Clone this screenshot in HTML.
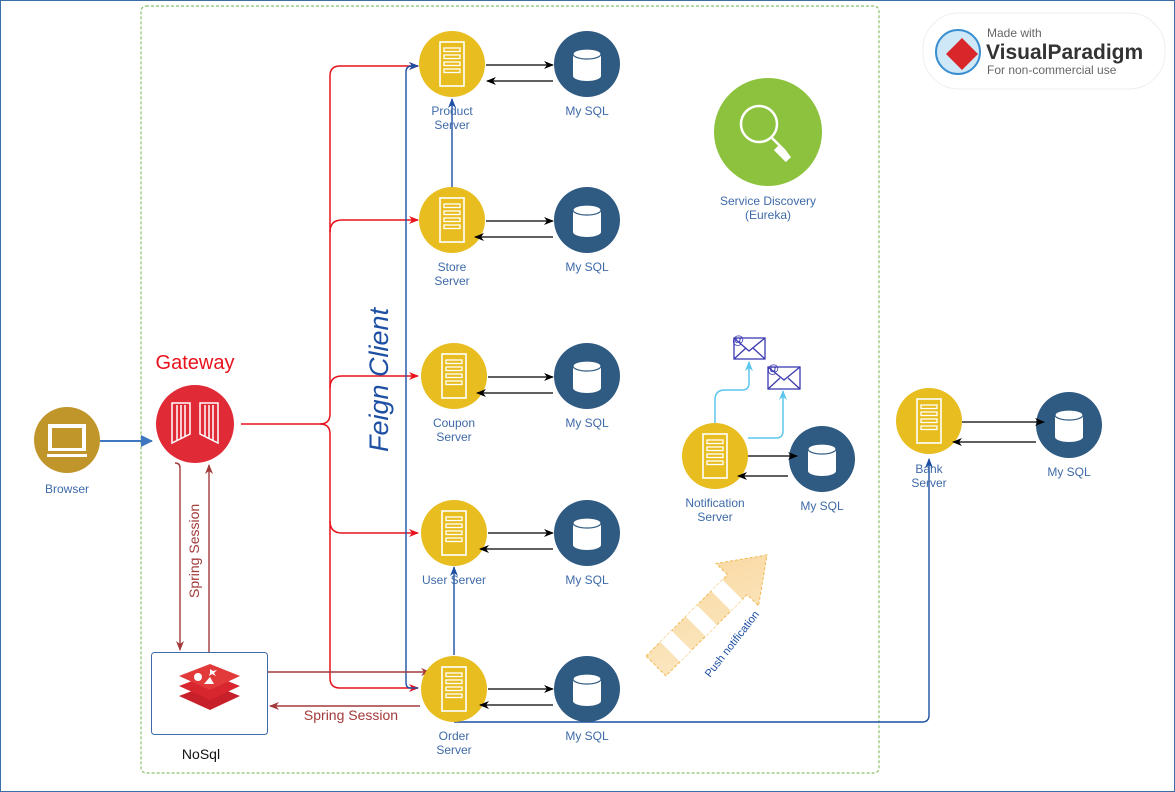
<!DOCTYPE html>
<html><head><meta charset="utf-8"><style>
html,body{margin:0;padding:0;background:#fff;}
svg{display:block;font-family:"Liberation Sans",sans-serif;}
</style></head><body>
<svg width="1175" height="792" viewBox="0 0 1175 792" xmlns="http://www.w3.org/2000/svg">
<defs>
<marker id="ab" markerWidth="10" markerHeight="10" refX="9" refY="5" orient="auto" markerUnits="userSpaceOnUse"><path d="M0,1 L10,5 L0,9 L3,5 z" fill="#000"/></marker>
<marker id="ar" markerWidth="10" markerHeight="10" refX="9" refY="5" orient="auto" markerUnits="userSpaceOnUse"><path d="M0,1 L10,5 L0,9 L3,5 z" fill="#e8121c"/></marker>
<marker id="abl" markerWidth="10" markerHeight="10" refX="9" refY="5" orient="auto" markerUnits="userSpaceOnUse"><path d="M0,1 L10,5 L0,9 L3,5 z" fill="#1d4fa3"/></marker>
<marker id="adr" markerWidth="10" markerHeight="10" refX="9" refY="5" orient="auto" markerUnits="userSpaceOnUse"><path d="M0,1 L10,5 L0,9 L3,5 z" fill="#a33a3a"/></marker>
<marker id="alb" markerWidth="10" markerHeight="10" refX="9" refY="5" orient="auto" markerUnits="userSpaceOnUse"><path d="M0,1 L10,5 L0,9 L3,5 z" fill="#5cc5ee"/></marker>
<marker id="aBr" markerWidth="12" markerHeight="12" refX="11" refY="6" orient="auto" markerUnits="userSpaceOnUse"><path d="M0,0 L12,6 L0,12 z" fill="#3f78c0"/></marker>
<g id="srv"><circle r="33" fill="#e8bd20"/><rect x="-12" y="-22" width="24" height="44" fill="none" stroke="#fff" stroke-width="1.6"/><rect x="-8" y="-16" width="16" height="3.5" fill="none" stroke="#fff" stroke-width="1.3"/><rect x="-8" y="-9" width="16" height="3.5" fill="none" stroke="#fff" stroke-width="1.3"/><rect x="-8" y="-2" width="16" height="3.5" fill="none" stroke="#fff" stroke-width="1.3"/><rect x="-8" y="5" width="16" height="3.5" fill="none" stroke="#fff" stroke-width="1.3"/></g>
<g id="db"><circle r="33" fill="#2f5a82"/><path d="M-14,-10 L-14,12 A14,5 0 0 0 14,12 L14,-10" fill="#fff"/><ellipse cx="0" cy="-10" rx="14" ry="5" fill="#fff" stroke="#2f5a82" stroke-width="1.2"/></g>
<linearGradient id="pg" x1="0" y1="1" x2="1" y2="0"><stop offset="0" stop-color="#fbe2b4"/><stop offset="1" stop-color="#f7cf8a"/></linearGradient>
</defs>
<rect x="0.5" y="0.5" width="1174" height="791" fill="none" stroke="#3a6ea5" stroke-width="1"/>
<rect x="141" y="6" width="738" height="767" rx="5" fill="none" stroke="#8cc06a" stroke-width="1.2" stroke-dasharray="3,2"/>

<!-- logo -->
<rect x="923" y="13" width="242" height="76" rx="36" fill="#fff" stroke="#eee"/>
<circle cx="958" cy="52" r="22" fill="#cfe8f7" stroke="#3a8fd0" stroke-width="2"/>
<path d="M946,54 L962,38 L978,54 L962,70 z" fill="#d8262b"/>
<text x="987" y="37" font-size="12" fill="#666">Made with</text>
<text x="986" y="59" font-size="21" font-weight="bold" fill="#333">VisualParadigm</text>
<text x="987" y="74" font-size="12" fill="#666">For non-commercial use</text>

<!-- red trunk -->
<g fill="none" stroke="#e8121c" stroke-width="1.5">
<path d="M241,424 L320,424 Q330,424 330,414 L330,76 Q330,66 340,66 L418,66" marker-end="url(#ar)"/>
<path d="M330,232 Q330,220 342,220 L418,220" marker-end="url(#ar)"/>
<path d="M330,388 Q330,376 342,376 L418,376" marker-end="url(#ar)"/>
<path d="M320,424 Q330,424 330,434 L330,521 Q330,533 342,533 L418,533" marker-end="url(#ar)"/>
<path d="M330,521 L330,678 Q330,688 340,688 L418,688" marker-end="url(#ar)"/>
</g>
<!-- blue feign -->
<g fill="none" stroke="#1d4fa3" stroke-width="1.4">
<path d="M418,688 L410,688 Q406,688 406,682 L406,72 Q406,66 412,66 L418,66" marker-end="url(#abl)"/>
<path d="M452,187 L452,99" marker-end="url(#abl)"/>
<path d="M454,655 L454,567" marker-end="url(#abl)"/>
<path d="M454,722 L922,722 Q929,722 929,715 L929,459" marker-end="url(#abl)"/>
</g>
<text transform="translate(388,452) rotate(-90)" font-size="27" font-style="italic" fill="#1d4fa3">Feign Client</text>

<!-- browser & gateway -->
<circle cx="67" cy="440" r="33" fill="#c0952a"/>
<rect x="48" y="424" width="38" height="27" fill="#fff"/><rect x="52" y="428" width="30" height="20" fill="#c0952a"/>
<rect x="47" y="454" width="40" height="3" fill="#fff"/>
<text x="67" y="493" font-size="12" fill="#3e6aa8" text-anchor="middle">Browser</text>
<path d="M100,441 L152,441" stroke="#3f78c0" stroke-width="2" marker-end="url(#aBr)"/>
<circle cx="195" cy="424" r="39" fill="#e02a36"/>
<g stroke="#fff" stroke-width="1.5" fill="none"><path d="M172,403 L172,443 L190,434 L190,403 z"/><path d="M200,403 L200,434 L218,443 L218,403 z"/><path d="M177,405 V440 M181,405 V438 M185,405 V436 M205,405 V436 M209,405 V438 M213,405 V440"/></g>
<text x="195" y="369" font-size="20" fill="#e8121c" text-anchor="middle">Gateway</text>

<!-- spring session vertical -->
<g fill="none" stroke="#a33a3a" stroke-width="1.4">
<path d="M175,463 Q180,463 180,468 L180,650" marker-end="url(#adr)"/>
<path d="M209,652 L209,465" marker-end="url(#adr)"/>
<path d="M268,672 L430,672" marker-end="url(#adr)"/>
<path d="M420,706 L270,706" marker-end="url(#adr)"/>
</g>
<text transform="translate(199,598) rotate(-90)" font-size="14" fill="#a33a3a">Spring Session</text>
<text x="351" y="720" font-size="14" fill="#a33a3a" text-anchor="middle">Spring Session</text>

<!-- NoSql -->
<rect x="151.5" y="652.5" width="116" height="82" rx="3" fill="#fff" stroke="#3e6aa8" stroke-width="1"/>
<g fill="#c8202a"><path d="M179,696 L210,684 L240,696 L210,710 z"/><path d="M179,686 L210,674 L240,686 L210,700 z" fill="#d8262e"/><path d="M179,676 L210,664 L240,676 L210,690 z" fill="#e23a3a"/></g>
<circle cx="198" cy="677" r="4" fill="#fff"/><path d="M204,684 L214,684 L210,677 z" fill="#fff"/><path d="M210,669 L213,671 L217,670 L214,673 L216,676 L212,674 L209,676 L210,673 z" fill="#fff"/>
<text x="201" y="759" font-size="14" fill="#111" text-anchor="middle">NoSql</text>

<!-- servers & dbs -->
<g font-size="12" fill="#3e6aa8" text-anchor="middle">
<use href="#srv" x="452" y="64"/><use href="#db" x="587" y="64"/>
<text x="452" y="115">Product</text><text x="452" y="129">Server</text><text x="587" y="115">My SQL</text>
<use href="#srv" x="452" y="220"/><use href="#db" x="587" y="220"/>
<text x="452" y="271">Store</text><text x="452" y="285">Server</text><text x="587" y="271">My SQL</text>
<use href="#srv" x="454" y="376"/><use href="#db" x="587" y="376"/>
<text x="454" y="427">Coupon</text><text x="454" y="441">Server</text><text x="587" y="427">My SQL</text>
<use href="#srv" x="454" y="533"/><use href="#db" x="587" y="533"/>
<text x="454" y="584">User Server</text><text x="587" y="584">My SQL</text>
<use href="#srv" x="454" y="689"/><use href="#db" x="587" y="689"/>
<text x="454" y="740">Order</text><text x="454" y="754">Server</text><text x="587" y="740">My SQL</text>
<use href="#srv" x="715" y="456"/><use href="#db" x="822" y="459"/>
<text x="715" y="507">Notification</text><text x="715" y="521">Server</text><text x="822" y="510">My SQL</text>
<use href="#srv" x="929" y="421"/><use href="#db" x="1069" y="425"/>
<text x="929" y="473">Bank</text><text x="929" y="487">Server</text><text x="1069" y="476">My SQL</text>
<circle cx="768" cy="132" r="54" fill="#8dc23e"/>
<text x="768" y="205">Service Discovery</text><text x="768" y="219">(Eureka)</text>
</g>
<circle cx="759" cy="124" r="18" fill="none" stroke="#fff" stroke-width="2.5"/>
<path d="M772,138 L784,150 L790,158" stroke="#fff" stroke-width="2.5"/>
<path d="M776,148 L788,160" stroke="#fff" stroke-width="6"/>

<!-- black db arrows -->
<g stroke="#000" stroke-width="1.3" fill="none">
<path d="M486,65 L553,65" marker-end="url(#ab)"/><path d="M553,81 L487,81" marker-end="url(#ab)"/>
<path d="M486,221 L553,221" marker-end="url(#ab)"/><path d="M553,237 L475,237" marker-end="url(#ab)"/>
<path d="M488,377 L553,377" marker-end="url(#ab)"/><path d="M553,393 L477,393" marker-end="url(#ab)"/>
<path d="M488,533 L553,533" marker-end="url(#ab)"/><path d="M553,549 L480,549" marker-end="url(#ab)"/>
<path d="M488,689 L553,689" marker-end="url(#ab)"/><path d="M553,705 L480,705" marker-end="url(#ab)"/>
<path d="M748,456 L797,456" marker-end="url(#ab)"/><path d="M788,476 L738,476" marker-end="url(#ab)"/>
<path d="M962,422 L1044,422" marker-end="url(#ab)"/><path d="M1036,442 L953,442" marker-end="url(#ab)"/>
</g>

<!-- email -->
<g fill="none" stroke="#5cc5ee" stroke-width="1.5">
<path d="M715,423 L715,400 Q715,390 725,390 L742,390 Q749,390 749,383 L749,362" marker-end="url(#alb)"/>
<path d="M748,438 L776,438 Q783,438 783,431 L783,391" marker-end="url(#alb)"/>
</g>
<g fill="#fff" stroke="#3b3ab0" stroke-width="1.3">
<rect x="734" y="338" width="31" height="21"/><path d="M734,338 L749,351 L765,338 M734,359 L746,348 M765,359 L753,348" fill="none"/>
<rect x="768" y="367" width="32" height="22"/><path d="M768,367 L784,380 L800,367 M768,389 L780,378 M800,389 L788,378" fill="none"/>
</g>
<text x="732" y="344" font-size="12" fill="#3b3ab0">@</text>
<text x="767" y="373" font-size="12" fill="#3b3ab0">@</text>

<!-- push notification arrow -->
<g transform="translate(656,666) rotate(-45)">
<path d="M0,-14 L115,-14 L115,-30 L157,0 L115,30 L115,14 L0,14 z" fill="url(#pg)" fill-opacity="0.8" stroke="#f0b850" stroke-width="1" stroke-dasharray="3,2"/>
<rect x="20" y="-14" width="16" height="28" fill="#fff"/>
<rect x="56" y="-14" width="16" height="28" fill="#fff"/>
<rect x="92" y="-14" width="16" height="28" fill="#fff"/>
</g>
<text transform="translate(710,678) rotate(-52)" font-size="11" fill="#1d4fa3">Push notification</text>
</svg>
</body></html>
